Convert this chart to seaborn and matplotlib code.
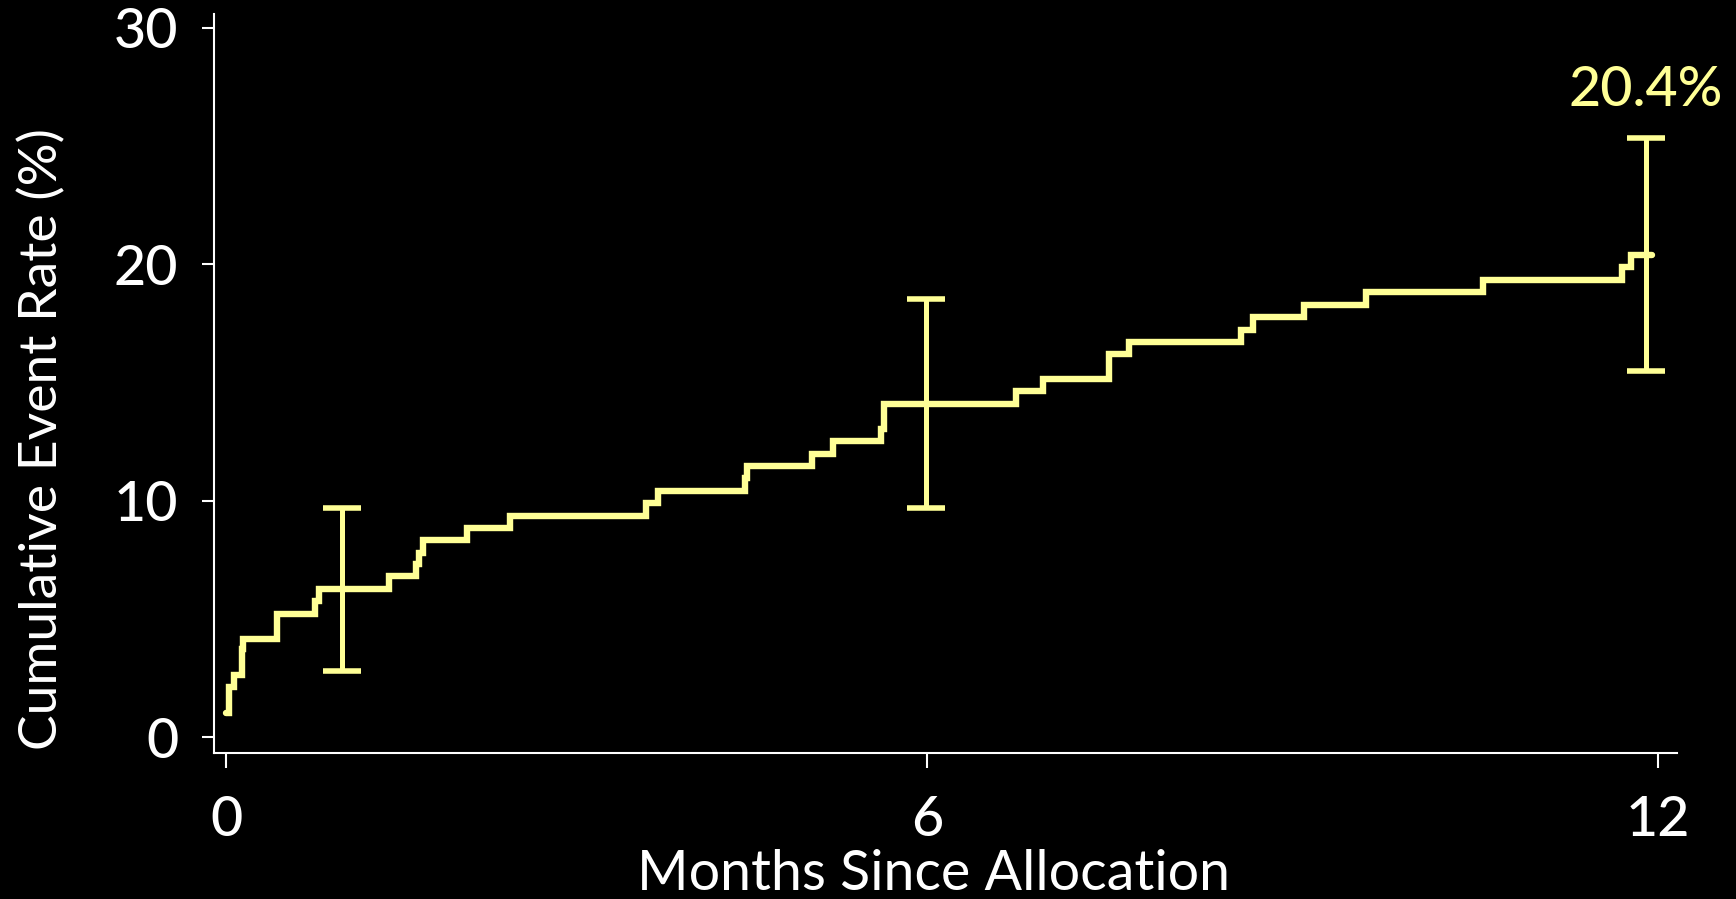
import numpy as np
import pandas as pd
import matplotlib
matplotlib.use("Agg")
import matplotlib.pyplot as plt
import seaborn as sns

# ---- data (time in days since allocation, cumulative event rate in %) ----
event_days = [0, 0.8, 1.9, 4.0, 4.4, 12.9, 22.7, 23.8, 41.6, 48.4, 49.3, 50.3,
              61.5, 72.4, 107.1, 110.0, 132.2, 132.9, 149.5, 154.7, 167.0, 167.7,
              201.5, 208.3, 225.1, 230.2, 258.7, 261.9, 274.8, 290.6, 320.5,
              356.0, 358.2, 363.6]
cum_rate = [1.04, 2.11, 2.62, 3.72, 4.17, 5.19, 5.76, 6.25, 6.81, 7.31, 7.80, 8.33,
            8.85, 9.37, 9.91, 10.42, 10.97, 11.46, 11.98, 12.51, 13.04, 14.09,
            14.62, 15.15, 16.20, 16.71, 17.23, 17.75, 18.29, 18.82, 19.34,
            19.86, 20.40, 20.40]

ci_days = [29.5, 178.4, 361.9]
ci_est = [6.25, 14.09, 20.40]
ci_low = [2.80, 9.67, 15.50]
ci_high = [9.67, 18.53, 25.35]

final_label = "20.4%"
xtick_days = [0, 178.7, 365]
xtick_labels = ["0", "6", "12"]
ytick_vals = [0, 10, 20, 30]
ytick_labels = ["0", "10", "20", "30"]

LINE = "#FFFF96"
FONT = ["Lato", "DejaVu Sans"]

sns.set_theme(style="ticks")
plt.rcParams["font.family"] = FONT
plt.rcParams.update({
    "figure.facecolor": "black",
    "axes.facecolor": "black",
    "axes.edgecolor": "white",
    "xtick.color": "white",
    "ytick.color": "white",
    "text.color": "white",
    "axes.labelcolor": "white",
    "font.weight": 500,
})

fig = plt.figure(figsize=(17.36, 8.99), dpi=100)
ax = fig.add_axes([0.1233, 0.1621, 0.9660 - 0.1233, 0.9844 - 0.1621])

df = pd.DataFrame({"days": event_days, "rate": cum_rate})
sns.lineplot(data=df, x="days", y="rate", ax=ax, color=LINE, linewidth=4.6,
             drawstyle="steps-post", solid_capstyle="round", solid_joinstyle="miter",
             estimator=None, sort=False)

est = np.array(ci_est)
yerr = np.vstack([est - np.array(ci_low), np.array(ci_high) - est])
ax.errorbar(ci_days, est, yerr=yerr, fmt="none", ecolor=LINE, elinewidth=3.6,
            capsize=14, capthick=4.0, zorder=3)

ax.text(ci_days[-1], 26.69, final_label, color=LINE, ha="center", va="baseline",
        fontsize=40, family=FONT)

ax.set_xlim(-3.06, 369.9)
ax.set_ylim(-0.68, 30.57)
ax.set_xticks(xtick_days)
ax.set_xticklabels(xtick_labels)
ax.set_yticks(ytick_vals)
ax.set_yticklabels(ytick_labels)

for s in ["top", "right"]:
    ax.spines[s].set_visible(False)
for s in ["left", "bottom"]:
    ax.spines[s].set_color("white")
    ax.spines[s].set_linewidth(1.5)

ax.tick_params(axis="x", length=11, width=1.5, pad=19, labelsize=40, colors="white")
ax.tick_params(axis="y", length=8.6, width=1.5, pad=17, labelsize=40, colors="white")

ax.set_xlabel("Months Since Allocation", fontsize=40, color="white", va="baseline")
ax.xaxis.set_label_coords(0.4918, -0.1849)
ax.set_ylabel("Cumulative Event Rate (%)", fontsize=38.5, color="white", va="center")
ax.yaxis.set_label_coords(-0.1176, 0.425)

fig.savefig("out.png", dpi=100, facecolor="black")
